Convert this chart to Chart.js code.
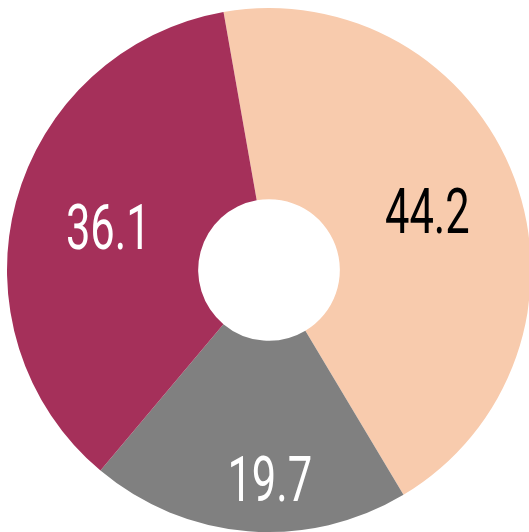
<!DOCTYPE html>
<html lang="en">
<head>
    <meta charset="UTF-8">
    <title>Doughnut</title>
    <style>
        html, body {
            margin: 0;
            padding: 0;
            background: #fff;
            overflow: hidden;
            width: 529px;
            height: 532px;
        }
        #wrap {
            position: absolute;
            left: -1px;
            top: 0;
            width: 540px;
            height: 540px;
        }
    </style>
    <script src="https://cdn.jsdelivr.net/npm/chart.js"></script>
</head>
<body>

<div id="wrap"><canvas id="pie" width="540" height="540"></canvas></div>

<script>
    const categories = ['A', 'B', 'C'];
    const values = [44.2, 19.7, 36.1];
    const sliceColors = ['#F8CBAD', '#808080', '#A5305A'];
    const labelColors = ['#000000', '#ffffff', '#ffffff'];
    const labelRadius = [0.645, 0.795, 0.635];
    const labelTurn = [0, -4.8, 0]; // degrees, nudges a label off the slice middle

    // draws the value in each slice, squeezed horizontally like a condensed face
    const sliceLabels = {
        id: 'sliceLabels',
        afterDatasetsDraw(chart) {
            const ctx = chart.ctx;
            const meta = chart.getDatasetMeta(0);
            const size = 63;
            meta.data.forEach((arc, i) => {
                const mid = (arc.startAngle + arc.endAngle) / 2 + labelTurn[i] * Math.PI / 180;
                const r = arc.outerRadius * labelRadius[i];
                const x = arc.x + Math.cos(mid) * r;
                const y = arc.y + Math.sin(mid) * r;
                ctx.save();
                ctx.translate(x, y + size * 0.711 / 2);
                ctx.scale(0.69, 1);
                ctx.font = '400 ' + size + 'px "Roboto"';
                ctx.fillStyle = labelColors[i];
                ctx.textAlign = 'center';
                ctx.textBaseline = 'alphabetic';
                ctx.fillText(values[i].toFixed(1), 0, 0);
                ctx.restore();
            });
        }
    };

    new Chart(document.getElementById('pie'), {
        type: 'doughnut',
        data: {
            labels: categories,
            datasets: [{
                data: values,
                backgroundColor: sliceColors,
                borderWidth: 0
            }]
        },
        options: {
            responsive: false,
            animation: false,
            rotation: -10,
            radius: 262,
            cutout: 73,
            layout: { padding: 0 },
            plugins: {
                legend: { display: false },
                tooltip: { enabled: false }
            }
        },
        plugins: [sliceLabels]
    });
</script>

</body>
</html>
